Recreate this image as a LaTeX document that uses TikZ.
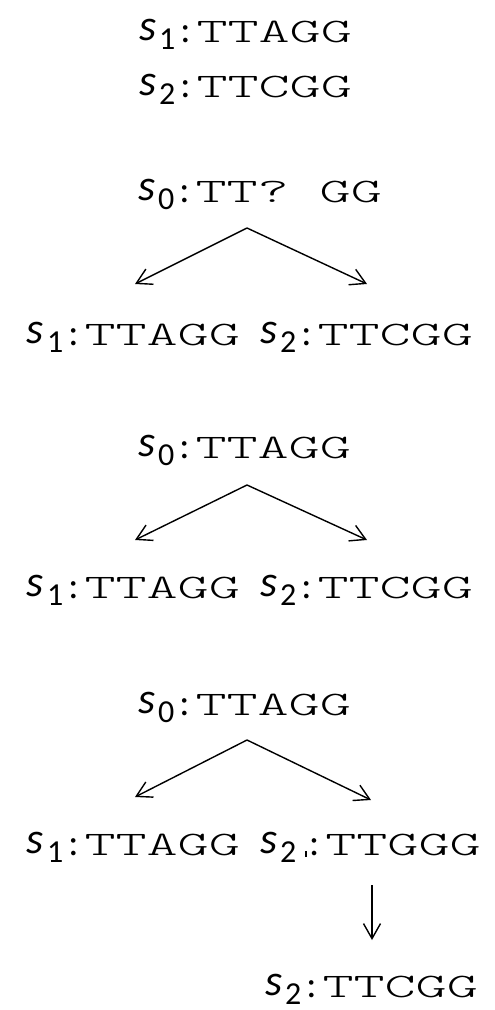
\documentclass[tikz,border=0pt]{standalone}
\usepackage{fontspec}
\usepackage{graphicx}
\usetikzlibrary{arrows.meta}
\newfontfamily\calfont{Carlito}
\newfontfamily\monolight{Latin Modern Mono Light}
\newcommand\sfs{\raisebox{2pt}{\fontsize{44}{44}\selectfont\itshape s}\kern3pt}
\newcommand\sfpart[1]{{\calfont\sfs\fontsize{32}{32}\selectfont\raisebox{-7pt}{#1}\kern5pt\fontsize{38}{38}\selectfont:\kern6pt}}
\newcommand\sfpartp[1]{{\calfont\sfs\fontsize{32}{32}\selectfont\raisebox{-7pt}{#1}\kern9pt\rule[-2pt]{1.8pt}{6.3pt}\kern2pt\fontsize{38}{38}\selectfont:\kern6pt}}
\newcommand\mpart[1]{\scalebox{1.72}[1]{\monolight\fontsize{34.4}{34.4}\selectfont #1}}
\newcommand\lbl[2]{\sfpart{#1}\mpart{#2}}
\newcommand\lblp[2]{\sfpartp{#1}\mpart{#2}}
\begin{document}
\begin{tikzpicture}[x=1pt,y=-1pt,
  lab/.style={inner sep=0pt, outer sep=0pt, anchor=base west},
  arr/.style={line width=1.4pt, -{Straight Barb[length=15pt,width=17pt,line width=1.4pt]}}]
\useasboundingbox (0,0) rectangle (495,1010);
% top pair
\node[lab] (t1) at (139,42) {\lbl{1}{TTAGG}};
\node[lab] (t2) at (139,97) {\lbl{2}{TTCGG}};
% block 1
\node[lab] (a0) at (138,202) {\lbl{0}{TT? GG}};
\coordinate (a0x) at (247,228);
\coordinate (a1x) at (135,284);
\coordinate (a2x) at (367,284);
\draw[arr] (a0x) -- (a1x);
\draw[arr] (a0x) -- (a2x);
\node[lab] (a1) at (27,345) {\lbl{1}{TTAGG}};
\node[lab] (a2) at (260,345) {\lbl{2}{TTCGG}};
% block 2
\node[lab] (b0) at (138,458) {\lbl{0}{TTAGG}};
\coordinate (b0x) at (247,485);
\coordinate (b1x) at (135,540);
\coordinate (b2x) at (367,540);
\draw[arr] (b0x) -- (b1x);
\draw[arr] (b0x) -- (b2x);
\node[lab] (b1) at (27,598) {\lbl{1}{TTAGG}};
\node[lab] (b2) at (260,598) {\lbl{2}{TTCGG}};
% block 3
\node[lab] (c0) at (138,715) {\lbl{0}{TTAGG}};
\coordinate (c0x) at (247,740);
\coordinate (c1x) at (135,797);
\coordinate (c2x) at (371,800);
\draw[arr] (c0x) -- (c1x);
\draw[arr] (c0x) -- (c2x);
\node[lab] (c1) at (27,855) {\lbl{1}{TTAGG}};
\node[lab] (c2) at (260,855) {\lblp{2}{TTGGG}};
\coordinate (c2d) at (372,885);
\coordinate (c3u) at (372,940);
\draw[arr] (c2d) -- (c3u);
\node[lab] (c3) at (265,997) {\lbl{2}{TTCGG}};
\end{tikzpicture}
\end{document}
